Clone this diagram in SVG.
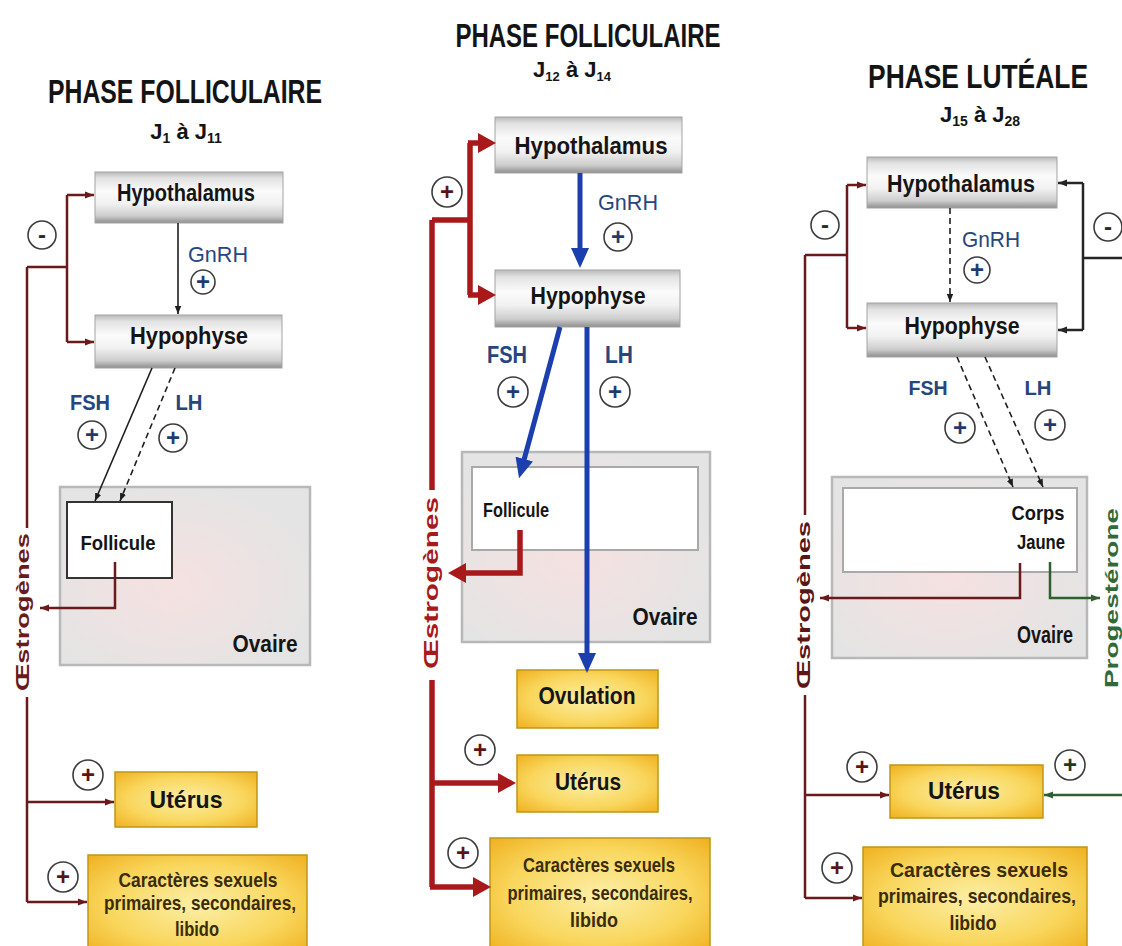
<svg xmlns="http://www.w3.org/2000/svg" width="1122" height="946" viewBox="0 0 1122 946">
<style>
.t{font-family:"Liberation Sans",Arial,sans-serif;font-weight:bold;text-anchor:middle;fill:#141414}
.title{font-size:33px}
.jl{font-size:22px}
.node{font-size:23px;fill:#151515}
.horm{font-size:22px;fill:#26467c}
.gn{font-weight:normal}
.cara{font-size:21px;fill:#3b2c08}
.vt{font-size:19px}
.gbox{fill:url(#gGray);stroke:#a3a3a3;stroke-width:1}
.ybox{fill:url(#gGold);stroke:#c09616;stroke-width:1.5}
.ov{fill:url(#gOv);stroke:#b8b8b8;stroke-width:2.5}
.inner{fill:#fff;stroke:#a9a9a9;stroke-width:2}
.sym circle{fill:#fff;stroke:#3c3c3c;stroke-width:1.6}
.sym text{font-family:"Liberation Sans",Arial,sans-serif;font-weight:bold;text-anchor:middle;font-size:24px}
.pb{fill:#1f3b6e}
.pr{fill:#5a1414}
.pg{fill:#1d3a1d}
.mn{fill:#2a2a2a;font-size:28px}
.mar{fill:none;stroke:#6a1a1a;stroke-width:2.5}
.drk{fill:none;stroke:#262626;stroke-width:2.5}
.blk{fill:none;stroke:#1e1e1e;stroke-width:1.6}
.dash{stroke-dasharray:6 4}
.grn{fill:none;stroke:#2f5f2f;stroke-width:2.5}
.blu{fill:none;stroke:#1c3fae;stroke-width:5}
.red{fill:none;stroke:#a8191b;stroke-width:5.5}
</style>
<defs>
<linearGradient id="gGray" x1="0" y1="0" x2="0" y2="1">
<stop offset="0" stop-color="#b9b9b9"/><stop offset="0.12" stop-color="#e2e2e2"/><stop offset="0.38" stop-color="#fbfbfb"/><stop offset="0.62" stop-color="#f1f1f1"/><stop offset="0.86" stop-color="#cdcdcd"/><stop offset="1" stop-color="#8e8e8e"/>
</linearGradient>
<radialGradient id="gGold" cx="0.5" cy="0.5" r="0.75">
<stop offset="0" stop-color="#fcefa8"/><stop offset="0.55" stop-color="#f9d65c"/><stop offset="1" stop-color="#eeaa16"/>
</radialGradient>
<radialGradient id="gOv" cx="0.45" cy="0.55" r="0.6">
<stop offset="0" stop-color="#f6e1e1"/><stop offset="1" stop-color="#e4e4e4"/>
</radialGradient>
<marker id="mMar" markerUnits="userSpaceOnUse" viewBox="0 0 10 10" markerWidth="9" markerHeight="9" refX="10" refY="5" orient="auto"><path d="M0,1 L10,5 L0,9 z" fill="#6a1a1a"/></marker>
<marker id="mBlk" markerUnits="userSpaceOnUse" viewBox="0 0 10 10" markerWidth="8" markerHeight="8" refX="10" refY="5" orient="auto"><path d="M0,1 L10,5 L0,9 z" fill="#1e1e1e"/></marker>
<marker id="mDrk" markerUnits="userSpaceOnUse" viewBox="0 0 10 10" markerWidth="9" markerHeight="9" refX="10" refY="5" orient="auto"><path d="M0,1 L10,5 L0,9 z" fill="#262626"/></marker>
<marker id="mGrn" markerUnits="userSpaceOnUse" viewBox="0 0 10 10" markerWidth="9" markerHeight="9" refX="10" refY="5" orient="auto"><path d="M0,1 L10,5 L0,9 z" fill="#2f5f2f"/></marker>
<marker id="mBlue" markerUnits="userSpaceOnUse" viewBox="0 0 20 18" markerWidth="20" markerHeight="18" refX="1" refY="9" orient="auto"><path d="M0,0 L20,9 L0,18 z" fill="#1c3fae"/></marker>
<marker id="mRed" markerUnits="userSpaceOnUse" viewBox="0 0 18 20" markerWidth="18" markerHeight="20" refX="1" refY="10" orient="auto"><path d="M0,0 L18,10 L0,20 z" fill="#a8191b"/></marker>
</defs>
<rect width="1122" height="946" fill="#fff"/>

<g id="titles" class="t">
<text class="title" x="185" y="103" textLength="274" lengthAdjust="spacingAndGlyphs">PHASE FOLLICULAIRE</text>
<text class="jl" x="186" y="139">J<tspan font-size="14" dy="4">1</tspan><tspan dy="-4"> à J</tspan><tspan font-size="14" dy="4">11</tspan></text>
<text class="title" x="588" y="47" font-size="31" textLength="265" lengthAdjust="spacingAndGlyphs">PHASE FOLLICULAIRE</text>
<text class="jl" x="572" y="77" font-size="20">J<tspan font-size="13" dy="4">12</tspan><tspan dy="-4"> à J</tspan><tspan font-size="13" dy="4">14</tspan></text>
<text class="title" transform="translate(978,88) scale(0.8,1)" x="0" y="0" font-size="30">PHASE LUTÉALE</text>
<text class="jl" x="980" y="122">J<tspan font-size="14" dy="4">15</tspan><tspan dy="-4"> à J</tspan><tspan font-size="14" dy="4">28</tspan></text>
</g>

<!-- Left panel nodes -->
<g id="L-ovaire"><rect class="ov" x="60" y="487" width="250" height="178"/><text class="t node" x="265" y="652" textLength="65" lengthAdjust="spacingAndGlyphs">Ovaire</text></g>
<g id="L-hypothalamus"><rect class="gbox" x="95" y="172" width="188" height="51"/><text class="t node" x="186" y="201" textLength="138" lengthAdjust="spacingAndGlyphs">Hypothalamus</text></g>
<g id="L-hypophyse"><rect class="gbox" x="95" y="315" width="187" height="53"/><text class="t node" x="189" y="344" textLength="118" lengthAdjust="spacingAndGlyphs">Hypophyse</text></g>
<g id="L-follicule"><rect x="67" y="502" width="105" height="76" fill="#fff" stroke="#333" stroke-width="2"/><text class="t" x="118" y="550" font-size="20" textLength="75" lengthAdjust="spacingAndGlyphs">Follicule</text></g>
<g id="L-uterus"><rect class="ybox" x="115" y="772" width="142" height="55"/><text class="t node" x="186" y="808" font-size="24" fill="#3b2c08" textLength="73" lengthAdjust="spacingAndGlyphs">Utérus</text></g>
<g id="L-caracteres"><rect class="ybox" x="88" y="855" width="219" height="100"/>
<text class="t cara" x="198" y="887" textLength="159" lengthAdjust="spacingAndGlyphs">Caractères sexuels</text>
<text class="t cara" x="200" y="910" textLength="192" lengthAdjust="spacingAndGlyphs">primaires, secondaires,</text>
<text class="t cara" x="197" y="936" textLength="44" lengthAdjust="spacingAndGlyphs">libido</text></g>

<!-- Middle panel nodes -->
<g id="M-ovaire"><rect class="ov" x="462" y="452" width="248" height="190"/><rect class="inner" x="472" y="467" width="226" height="83"/><text class="t node" x="665" y="625" font-size="24" textLength="65" lengthAdjust="spacingAndGlyphs">Ovaire</text></g>
<g id="M-follicule"><text class="t" x="516" y="517" font-size="20" textLength="66" lengthAdjust="spacingAndGlyphs">Follicule</text></g>
<g id="M-hypothalamus"><rect class="gbox" x="495" y="117" width="187" height="56"/><text class="t node" x="591" y="154" textLength="153" lengthAdjust="spacingAndGlyphs">Hypothalamus</text></g>
<g id="M-hypophyse"><rect class="gbox" x="495" y="270" width="185" height="57"/><text class="t node" x="588" y="304" textLength="115" lengthAdjust="spacingAndGlyphs">Hypophyse</text></g>
<g id="M-ovulation"><rect class="ybox" x="517" y="670" width="141" height="58"/><text class="t node" x="587" y="704" font-size="25" fill="#3b2c08" textLength="97" lengthAdjust="spacingAndGlyphs">Ovulation</text></g>
<g id="M-uterus"><rect class="ybox" x="517" y="755" width="141" height="57"/><text class="t node" x="588" y="790" font-size="24" fill="#3b2c08" textLength="66" lengthAdjust="spacingAndGlyphs">Utérus</text></g>
<g id="M-caracteres"><rect class="ybox" x="490" y="838" width="220" height="115"/>
<text class="t cara" x="599" y="872" textLength="152" lengthAdjust="spacingAndGlyphs">Caractères sexuels</text>
<text class="t cara" x="600" y="900" textLength="185" lengthAdjust="spacingAndGlyphs">primaires, secondaires,</text>
<text class="t cara" x="594" y="927" textLength="48" lengthAdjust="spacingAndGlyphs">libido</text></g>

<!-- Right panel nodes -->
<g id="R-ovaire"><rect class="ov" x="832" y="477" width="255" height="181"/><rect class="inner" x="843" y="488" width="234" height="84"/><text class="t node" x="1045" y="643" font-size="24" textLength="56" lengthAdjust="spacingAndGlyphs">Ovaire</text></g>
<g id="R-corps-jaune"><text class="t" x="1038" y="520" font-size="21" textLength="53" lengthAdjust="spacingAndGlyphs">Corps</text><text class="t" x="1041" y="549" font-size="21" textLength="48" lengthAdjust="spacingAndGlyphs">Jaune</text></g>
<g id="R-hypothalamus"><rect class="gbox" x="867" y="157" width="190" height="51"/><text class="t node" x="961" y="192" textLength="148" lengthAdjust="spacingAndGlyphs">Hypothalamus</text></g>
<g id="R-hypophyse"><rect class="gbox" x="867" y="303" width="190" height="54"/><text class="t node" x="962" y="334" textLength="115" lengthAdjust="spacingAndGlyphs">Hypophyse</text></g>
<g id="R-uterus"><rect class="ybox" x="890" y="765" width="153" height="53"/><text class="t node" x="964" y="799" font-size="24" fill="#3b2c08" textLength="72" lengthAdjust="spacingAndGlyphs">Utérus</text></g>
<g id="R-caracteres"><rect class="ybox" x="863" y="847" width="224" height="105"/>
<text class="t cara" x="979" y="877" textLength="178" lengthAdjust="spacingAndGlyphs">Caractères sexuels</text>
<text class="t cara" x="977" y="903" textLength="198" lengthAdjust="spacingAndGlyphs">primaires,  secondaires,</text>
<text class="t cara" x="973" y="930" textLength="47" lengthAdjust="spacingAndGlyphs">libido</text></g>

<!-- Connectors -->
<g id="connectors">
<!-- left -->
<path class="mar" d="M27 267 H67 M67 195 V342 M27 267 V528 M27 697 V902"/>
<path class="mar" d="M67 195 H94" marker-end="url(#mMar)"/>
<path class="mar" d="M67 342 H94" marker-end="url(#mMar)"/>
<path class="mar" d="M27 802 H114" marker-end="url(#mMar)"/>
<path class="mar" d="M27 902 H87" marker-end="url(#mMar)"/>
<path class="mar" d="M115 562 V608 H40" marker-end="url(#mMar)"/>
<path class="blk" d="M178 223 V314" marker-end="url(#mBlk)"/>
<path class="blk" d="M152 368 L95 501" marker-end="url(#mBlk)"/>
<path class="blk dash" d="M175 368 L120 501" stroke-width="2" marker-end="url(#mBlk)"/>
<!-- middle -->
<path class="red" d="M432 220 H470 M470 143 V295 M432 220 V490 M432 680 V887"/>
<path class="red" d="M468 143 H479" marker-end="url(#mRed)"/>
<path class="red" d="M468 295 H479" marker-end="url(#mRed)"/>
<path class="red" d="M430 783 H499" marker-end="url(#mRed)"/>
<path class="red" d="M430 887 H474" marker-end="url(#mRed)"/>
<path class="red" d="M520 530 V573 H465" stroke-width="6.5" marker-end="url(#mRed)"/>
<path class="blu" d="M580 173 V249" marker-end="url(#mBlue)"/>
<path class="blu" d="M560 327 L524 460" marker-end="url(#mBlue)"/>
<path class="blu" d="M587 327 V654" stroke-width="4" marker-end="url(#mBlue)"/>
<!-- right -->
<path class="mar" d="M805 255 H847 M847 185 V328 M805 255 V515 M805 695 V898"/>
<path class="mar" d="M847 185 H866" marker-end="url(#mMar)"/>
<path class="mar" d="M847 328 H866" marker-end="url(#mMar)"/>
<path class="mar" d="M805 795 H889" marker-end="url(#mMar)"/>
<path class="mar" d="M805 898 H862" marker-end="url(#mMar)"/>
<path class="mar" d="M1020 563 V598 H820" marker-end="url(#mMar)"/>
<path class="drk" d="M1083 183 V330 M1083 258 H1122"/>
<path class="drk" d="M1083 183 H1058" marker-end="url(#mDrk)"/>
<path class="drk" d="M1083 330 H1058" marker-end="url(#mDrk)"/>
<path class="blk dash" d="M950 208 V302" stroke-dasharray="4 3" marker-end="url(#mBlk)"/>
<path class="blk dash" d="M957 357 L1013 487" stroke-width="2" marker-end="url(#mBlk)"/>
<path class="blk dash" d="M985 357 L1043 487" stroke-width="2" marker-end="url(#mBlk)"/>
<path class="grn" d="M1050 562 V598 H1100" marker-end="url(#mGrn)"/>
<path class="grn" d="M1122 795 H1044" marker-end="url(#mGrn)"/>
</g>

<!-- Vertical hormone labels -->
<g id="vlabels" class="t vt">
<text transform="translate(29,612) rotate(-90)" fill="#6a1a1a" textLength="158" lengthAdjust="spacingAndGlyphs">Œstrogènes</text>
<text transform="translate(438,583) rotate(-90)" fill="#a8191b" font-size="20" textLength="172" lengthAdjust="spacingAndGlyphs">Œstrogènes</text>
<text transform="translate(810,605) rotate(-90)" fill="#5a1616" textLength="168" lengthAdjust="spacingAndGlyphs">Œstrogènes</text>
<text transform="translate(1118,598) rotate(-90)" fill="#2f6a38" font-size="19" textLength="180" lengthAdjust="spacingAndGlyphs">Progestérone</text>
</g>

<!-- Hormone labels -->
<g id="hormones" class="t horm">
<text class="gn" x="218" y="262" textLength="60" lengthAdjust="spacingAndGlyphs">GnRH</text>
<text x="90" y="410" textLength="40" lengthAdjust="spacingAndGlyphs">FSH</text>
<text x="189" y="410" textLength="27" lengthAdjust="spacingAndGlyphs">LH</text>
<text class="gn" x="628" y="210" textLength="60" lengthAdjust="spacingAndGlyphs">GnRH</text>
<text x="507" y="363" font-size="24" textLength="40" lengthAdjust="spacingAndGlyphs">FSH</text>
<text x="619" y="363" font-size="24" textLength="28" lengthAdjust="spacingAndGlyphs">LH</text>
<text class="gn" x="991" y="247" textLength="58" lengthAdjust="spacingAndGlyphs">GnRH</text>
<text x="928" y="395" font-size="21" textLength="39" lengthAdjust="spacingAndGlyphs">FSH</text>
<text x="1038" y="395" font-size="21" textLength="27" lengthAdjust="spacingAndGlyphs">LH</text>
</g>

<!-- Effect symbols -->
<g id="symbols" class="sym">
<circle cx="42" cy="235" r="14"/><text class="mn" x="42" y="243">-</text>
<circle cx="203" cy="282" r="12"/><text class="pb" x="203" y="290">+</text>
<circle cx="92" cy="435" r="14"/><text class="pb" x="92" y="443">+</text>
<circle cx="173" cy="438" r="14"/><text class="pb" x="173" y="446">+</text>
<circle cx="88" cy="775" r="15"/><text class="pr" x="88" y="783">+</text>
<circle cx="63" cy="877" r="15"/><text class="pr" x="63" y="885">+</text>

<circle cx="447" cy="192" r="15"/><text class="pr" x="447" y="200">+</text>
<circle cx="618" cy="237" r="14"/><text class="pb" x="618" y="245">+</text>
<circle cx="513" cy="392" r="15"/><text class="pb" x="513" y="400">+</text>
<circle cx="615" cy="392" r="15"/><text class="pb" x="615" y="400">+</text>
<circle cx="480" cy="750" r="15"/><text class="pr" x="480" y="758">+</text>
<circle cx="463" cy="853" r="15"/><text class="pr" x="463" y="861">+</text>

<circle cx="825" cy="225" r="14"/><text class="mn" x="825" y="233">-</text>
<circle cx="1108" cy="227" r="14"/><text class="mn" x="1108" y="235">-</text>
<circle cx="977" cy="270" r="13"/><text class="pb" x="977" y="278">+</text>
<circle cx="960" cy="428" r="15"/><text class="pb" x="960" y="436">+</text>
<circle cx="1050" cy="425" r="15"/><text class="pb" x="1050" y="433">+</text>
<circle cx="862" cy="767" r="15"/><text class="pr" x="862" y="775">+</text>
<circle cx="1070" cy="765" r="15"/><text class="pg" x="1070" y="773">+</text>
<circle cx="837" cy="868" r="15"/><text class="pr" x="837" y="876">+</text>
</g>
</svg>
